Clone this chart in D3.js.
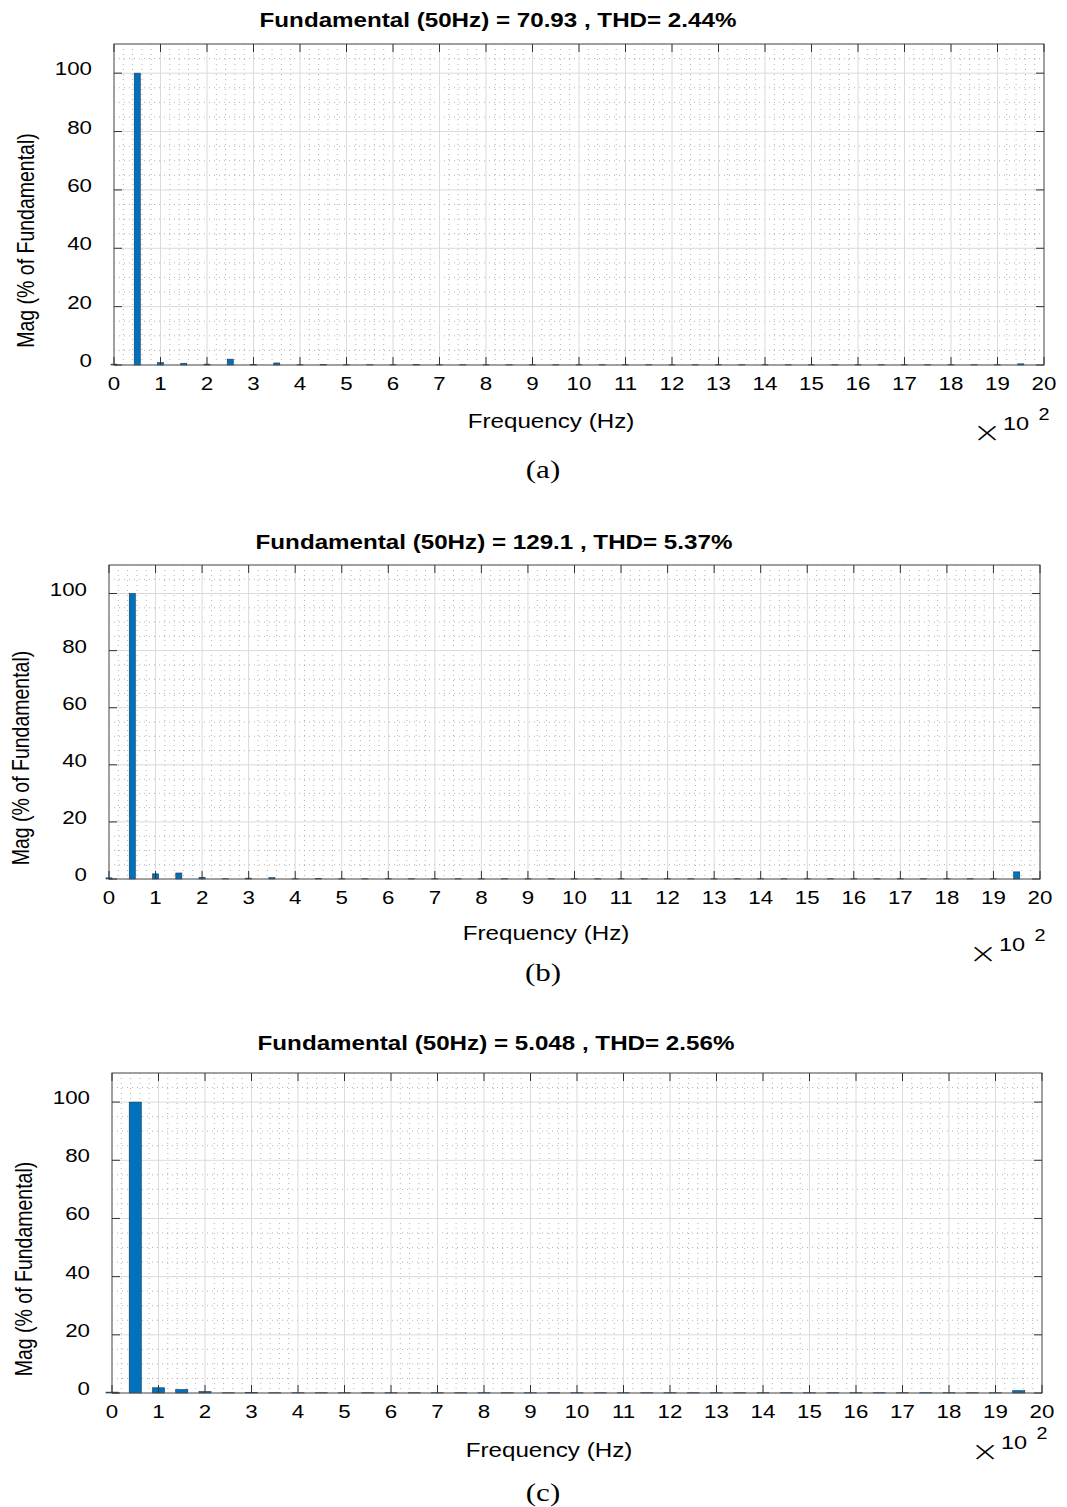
<!DOCTYPE html>
<html>
<head>
<meta charset="utf-8">
<style>
body { margin: 0; background: #fff; }
text { font-family: "Liberation Sans", Arial, sans-serif; fill: #000; }
.cap { font-family: "Liberation Serif", "Times New Roman", serif; }
.times { font-family: "DejaVu Sans", sans-serif; font-weight: 200; }
</style>
</head>
<body>
<script src="https://cdn.jsdelivr.net/npm/d3@7"></script>
<script>
// harmonic frequencies (Hz)
const freqHz = [0,50,100,150,200,250,300,350,400,450,500,550,600,650,700,750,800,850,900,950,
  1000,1050,1100,1150,1200,1250,1300,1350,1400,1450,1500,1550,1600,1650,1700,1750,1800,1850,1900,1950];

// magnitudes (% of fundamental)
const magA = [0.3,100,0.8,0.6,0.3,2.0,0.2,0.7,0.1,0.15,0.1,0.1,0.1,0.15,0.1,0.1,0.1,0.1,0.1,0.1,
  0.1,0.1,0.1,0.1,0.1,0.1,0.1,0.1,0.1,0.1,0.1,0.1,0.1,0.1,0.1,0.1,0.1,0.1,0.1,0.4];
const magB = [0.4,100,1.8,2.1,0.6,0.1,0.3,0.5,0.1,0.15,0.1,0.1,0.1,0.1,0.1,0.1,0.1,0.1,0.1,0.1,
  0.1,0.1,0.1,0.1,0.1,0.1,0.1,0.1,0.1,0.1,0.1,0.1,0.1,0.1,0.1,0.1,0.1,0.1,0.1,2.5];
const magC = [0.3,100,1.8,1.2,0.5,0.1,0.15,0.1,0.1,0.1,0.1,0.1,0.1,0.1,0.1,0.1,0.1,0.1,0.1,0.1,
  0.1,0.1,0.1,0.1,0.1,0.1,0.1,0.1,0.1,0.1,0.1,0.1,0.1,0.1,0.1,0.1,0.1,0.1,0.1,0.8];

const titles = ["Fundamental (50Hz) = 70.93 , THD= 2.44%",
                "Fundamental (50Hz) = 129.1 , THD= 5.37%",
                "Fundamental (50Hz) = 5.048 , THD= 2.56%"];
const captions = ["(a)", "(b)", "(c)"];
const xTicks = d3.range(0, 21);       // x100 Hz
const yTicks = [0, 20, 40, 60, 80, 100];

// layout of the three panels
const panels = [
  {mag: magA, x0: 114, x1: 1044, y0: 44,   y1: 365,  tx: 498, ty: 27,   fx: 551, fy: 428,  ex: 65, cy: 478,  bw: 13},
  {mag: magB, x0: 109, x1: 1040, y0: 565,  y1: 879,  tx: 494, ty: 549,  fx: 546, fy: 940,  ex: 72, cy: 981,  bw: 13},
  {mag: magC, x0: 112, x1: 1042, y0: 1073, y1: 1393, tx: 496, ty: 1050, fx: 549, fy: 1457, ex: 56, cy: 1501, bw: 26}
];

const SX = 1.24; // the picture is stretched horizontally

const W = 1067, H = 1507;
const svg = d3.select("body").append("svg")
    .attr("width", W).attr("height", H);

function label(g, x, y, s, size, anchor, opt) {
  opt = opt || {};
  return g.append("text")
    .attr("transform", "translate(" + x + "," + y + ") scale(" + SX + ",1)" + (opt.rot ? " rotate(-90)" : ""))
    .attr("text-anchor", anchor)
    .attr("class", opt.cls || null)
    .style("font-size", size + "px")
    .style("font-weight", opt.bold ? "bold" : null)
    .text(s);
}

panels.forEach(function(p, i) {
  const g = svg.append("g");
  const x = d3.scaleLinear().domain([0, 20]).range([p.x0, p.x1]);
  const y = d3.scaleLinear().domain([0, 110]).range([p.y1, p.y0]);

  // minor grid (dotted)
  const xMinor = d3.range(0, 100).map(k => k * 0.2).filter(v => Math.abs(v - Math.round(v)) > 1e-6);
  const yMinor = d3.range(0, 23).map(k => k * 5).filter(v => v % 20 !== 0 && v < 110);
  g.selectAll(".mx").data(xMinor).enter().append("line")
    .attr("x1", d => x(d)).attr("x2", d => x(d))
    .attr("y1", p.y0).attr("y2", p.y1)
    .attr("stroke", "#aaa").attr("stroke-width", 0.9).attr("stroke-dasharray", "1,4");
  g.selectAll(".my").data(yMinor).enter().append("line")
    .attr("y1", d => y(d)).attr("y2", d => y(d))
    .attr("x1", p.x0).attr("x2", p.x1)
    .attr("stroke", "#aaa").attr("stroke-width", 0.9).attr("stroke-dasharray", "1,4");

  // major grid
  g.selectAll(".gx").data(xTicks).enter().append("line")
    .attr("x1", d => x(d)).attr("x2", d => x(d))
    .attr("y1", p.y0).attr("y2", p.y1)
    .attr("stroke", "#dadada").attr("stroke-width", 1);
  g.selectAll(".gy").data(yTicks.concat([110])).enter().append("line")
    .attr("y1", d => y(d)).attr("y2", d => y(d))
    .attr("x1", p.x0).attr("x2", p.x1)
    .attr("stroke", "#dadada").attr("stroke-width", 1);

  // bars
  g.selectAll(".bar").data(freqHz.map((f, k) => ({f: f, v: p.mag[k]}))).enter().append("rect")
    .attr("x", d => x((d.f - p.bw / 2) / 100))
    .attr("width", d => x(p.bw / 100) - x(0))
    .attr("y", d => y(d.v))
    .attr("height", d => y(0) - y(d.v))
    .attr("fill", "#0072bd")
    .attr("stroke", "#1b3550")
    .attr("stroke-width", 0.6);

  // box
  g.append("rect")
    .attr("x", p.x0).attr("y", p.y0)
    .attr("width", p.x1 - p.x0).attr("height", p.y1 - p.y0)
    .attr("fill", "none").attr("stroke", "#555").attr("stroke-width", 1);

  // inward ticks
  const tl = 8;
  xTicks.forEach(function(t) {
    g.append("line").attr("x1", x(t)).attr("x2", x(t)).attr("y1", p.y1).attr("y2", p.y1 - tl)
      .attr("stroke", "#333");
    g.append("line").attr("x1", x(t)).attr("x2", x(t)).attr("y1", p.y0).attr("y2", p.y0 + tl)
      .attr("stroke", "#333");
  });
  yTicks.forEach(function(t) {
    g.append("line").attr("y1", y(t)).attr("y2", y(t)).attr("x1", p.x0).attr("x2", p.x0 + tl)
      .attr("stroke", "#333");
    g.append("line").attr("y1", y(t)).attr("y2", y(t)).attr("x1", p.x1).attr("x2", p.x1 - tl)
      .attr("stroke", "#333");
  });

  // tick labels
  xTicks.forEach(function(t) {
    label(g, x(t), p.y1 + 25, String(t), 18, "middle");
  });
  yTicks.forEach(function(t) {
    label(g, p.x0 - 22, y(t) + 2, String(t), 18, "end");
  });

  // titles and axis labels
  label(g, p.tx, p.ty, titles[i], 19.5, "middle", {bold: true});
  label(g, p.fx, p.fy, "Frequency (Hz)", 19.5, "middle");
  label(g, p.x0 - 80, (p.y0 + p.y1) / 2 + 36, "Mag (% of Fundamental)", 19.5, "middle", {rot: true});

  // exponent
  label(g, p.x1 - 57, p.y1 + p.ex + 12, "×", 28, "middle", {cls: "times"});
  label(g, p.x1 - 28, p.y1 + p.ex, "10", 19, "middle");
  label(g, p.x1, p.y1 + p.ex - 10, "2", 16, "middle");

  // caption
  label(g, 543, p.cy, captions[i], 25, "middle", {cls: "cap"});
});
</script>
</body>
</html>
